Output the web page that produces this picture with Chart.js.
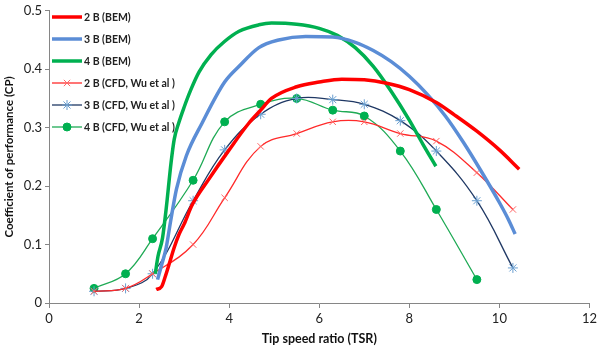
<!DOCTYPE html>
<html lang="en">
<head>
    <meta charset="UTF-8">
    <title>Coefficient of performance vs TSR</title>
    <style>
        html, body {margin: 0; padding: 0; background: #fff;}
        #wrap {width: 600px; height: 349px;}
    </style>
    <script src="https://cdn.jsdelivr.net/npm/chart.js@4/dist/chart.umd.min.js"></script>
</head>
<body>
    <div id="wrap">
        <canvas id="cpChart" width="600" height="349"></canvas>
    </div>

    <script>
        // tick labels
        const xTicks = [0, 2, 4, 6, 8, 10, 12];
        const yTicks = [0, 0.1, 0.2, 0.3, 0.4, 0.5];

        // BEM curves
        const bem2x = [2.38, 2.5, 2.58, 2.67, 2.78, 2.89, 3.0, 3.18, 3.55, 4.0, 4.44, 4.7, 4.94, 5.5, 6.0, 6.5, 7.0, 7.5, 8.0, 8.6, 9.0, 9.5, 10.0, 10.44];
        const bem2y = [0.023, 0.028, 0.045, 0.067, 0.095, 0.118, 0.135, 0.168, 0.212, 0.262, 0.308, 0.33, 0.35, 0.37, 0.378, 0.383, 0.382, 0.376, 0.365, 0.343, 0.322, 0.294, 0.262, 0.229];

        const bem3x = [2.41, 2.5, 2.6, 2.7, 2.83, 3.05, 3.4, 3.9, 4.22, 4.66, 5.1, 5.7, 6.3, 6.8, 7.2, 7.6, 8.0, 8.4, 8.8, 9.2, 9.6, 10.0, 10.2, 10.35];
        const bem3y = [0.04, 0.065, 0.094, 0.14, 0.195, 0.252, 0.308, 0.378, 0.405, 0.437, 0.45, 0.456, 0.455, 0.446, 0.432, 0.413, 0.388, 0.357, 0.32, 0.275, 0.225, 0.172, 0.143, 0.118];

        const bem4x = [2.36, 2.42, 2.52, 2.6, 2.71, 2.78, 2.88, 3.0, 3.15, 3.33, 3.6, 3.89, 4.22, 4.66, 4.94, 5.5, 6.0, 6.4, 6.8, 7.2, 7.6, 8.0, 8.3, 8.59];
        const bem4y = [0.05, 0.08, 0.111, 0.16, 0.24, 0.28, 0.308, 0.335, 0.365, 0.395, 0.425, 0.447, 0.465, 0.476, 0.479, 0.477, 0.47, 0.458, 0.437, 0.405, 0.362, 0.313, 0.272, 0.234];

        // CFD results (Wu et al)
        const cfdX  = [1.0, 1.7, 2.3, 3.2, 3.9, 4.7, 5.5, 6.3, 7.0, 7.8, 8.6, 9.5, 10.3];
        const cfd2y = [0.02, 0.025, 0.05, 0.1, 0.18, 0.268, 0.29, 0.31, 0.31, 0.29, 0.277, 0.223, 0.16];
        const cfd3y = [0.02, 0.025, 0.05, 0.175, 0.262, 0.323, 0.35, 0.348, 0.34, 0.312, 0.26, 0.175, 0.06];
        const cfd4x = [1.0, 1.7, 2.3, 3.2, 3.9, 4.7, 5.5, 6.3, 7.0, 7.8, 8.6, 9.5];
        const cfd4y = [0.025, 0.05, 0.11, 0.21, 0.31, 0.34, 0.35, 0.33, 0.32, 0.26, 0.16, 0.04];

        const pts = (xs, ys) => xs.map((x, i) => ({x: x, y: ys[i]}));

        const FONT = "Lato, 'Open Sans', sans-serif";

        // legend drawn inside the plot, top-left, line sample + marker
        const insideLegend = {
            id: 'insideLegend',
            afterDraw(chart) {
                const c = chart.ctx;
                const left = chart.chartArea.left + 3;
                c.save();
                chart.data.datasets.forEach((ds, i) => {
                    const y = 17 + i * 22;
                    c.strokeStyle = ds.borderColor;
                    c.lineWidth = ds.borderWidth;
                    c.lineCap = 'butt';
                    c.beginPath();
                    c.moveTo(left, y);
                    c.lineTo(left + 30, y);
                    c.stroke();
                    if (ds.pointStyle && ds.pointRadius > 0) {
                        c.strokeStyle = ds.pointBorderColor;
                        c.fillStyle = ds.pointBackgroundColor;
                        c.lineWidth = ds.pointBorderWidth;
                        Chart.helpers.drawPoint(c, {pointStyle: ds.pointStyle, radius: ds.pointRadius, borderWidth: ds.pointBorderWidth}, left + 15, y);
                    }
                    c.fillStyle = '#222';
                    c.font = "bold 10.5px " + FONT;
                    c.textBaseline = 'middle';
                    c.textAlign = 'left';
                    c.fillText(ds.label, left + 32, y + 1);
                });
                c.restore();
            }
        };

        const ctx = document.getElementById('cpChart');
        const chart = new Chart(ctx, {
            type: 'line',
            data: {
                datasets: [
                    {label: '2 B (BEM)', data: pts(bem2x, bem2y), borderColor: '#ff0000', borderWidth: 3.5,
                     pointRadius: 0, cubicInterpolationMode: 'monotone'},
                    {label: '3 B (BEM)', data: pts(bem3x, bem3y), borderColor: '#5b8dd6', borderWidth: 3.5,
                     pointRadius: 0, cubicInterpolationMode: 'monotone'},
                    {label: '4 B (BEM)', data: pts(bem4x, bem4y), borderColor: '#00b050', borderWidth: 3.5,
                     pointRadius: 0, cubicInterpolationMode: 'monotone'},
                    {label: '2 B (CFD, Wu et al )', data: pts(cfdX, cfd2y), borderColor: '#ff2a2a', borderWidth: 1.3,
                     tension: 0.4, pointStyle: 'crossRot', pointRadius: 4.5, pointBorderColor: '#ff6666',
                     pointBackgroundColor: '#ff6666', pointBorderWidth: 1},
                    {label: '3 B (CFD, Wu et al )', data: pts(cfdX, cfd3y), borderColor: '#1f3864', borderWidth: 1.3,
                     tension: 0.4, pointStyle: 'star', pointRadius: 5, pointBorderColor: '#6a9fd0',
                     pointBackgroundColor: '#6a9fd0', pointBorderWidth: 1},
                    {label: '4 B (CFD, Wu et al )', data: pts(cfd4x, cfd4y), borderColor: '#1faa55', borderWidth: 1.3,
                     tension: 0.4, pointStyle: 'circle', pointRadius: 4, pointBorderColor: '#00b050',
                     pointBackgroundColor: '#00b050', pointBorderWidth: 1}
                ]
            },
            options: {
                responsive: false,
                animation: false,
                layout: {padding: {top: 6, right: 8, bottom: 3, left: 0}},
                plugins: {
                    legend: {display: false},
                    tooltip: {enabled: false}
                },
                scales: {
                    x: {
                        type: 'linear',
                        min: 0, max: 12,
                        afterBuildTicks: (s) => { s.ticks = xTicks.map(v => ({value: v})); },
                        afterFit: (s) => { s.height = 43; },
                        border: {color: '#868686', width: 1},
                        grid: {drawOnChartArea: false, tickLength: 5, color: '#868686'},
                        ticks: {color: '#222', font: {family: FONT, size: 13}, padding: 3, maxRotation: 0},
                        title: {display: true, text: 'Tip speed ratio (TSR)', color: '#111',
                                font: {family: FONT, size: 12.5, weight: 'bold'}, padding: {top: 2, bottom: 0}}
                    },
                    y: {
                        min: 0, max: 0.5,
                        afterBuildTicks: (s) => { s.ticks = yTicks.map(v => ({value: v})); },
                        afterFit: (s) => { s.width = 49; },
                        border: {color: '#868686', width: 1},
                        grid: {drawOnChartArea: false, tickLength: 4, color: '#868686'},
                        ticks: {color: '#222', font: {family: FONT, size: 13}, padding: 3},
                        title: {display: true, text: 'Coefficient of performance (CP)', color: '#111',
                                font: {family: FONT, size: 11.5, weight: 'bold'}, padding: {top: 2, bottom: 0}}
                    }
                }
            },
            plugins: [insideLegend]
        });
    </script>
</body>
</html>
